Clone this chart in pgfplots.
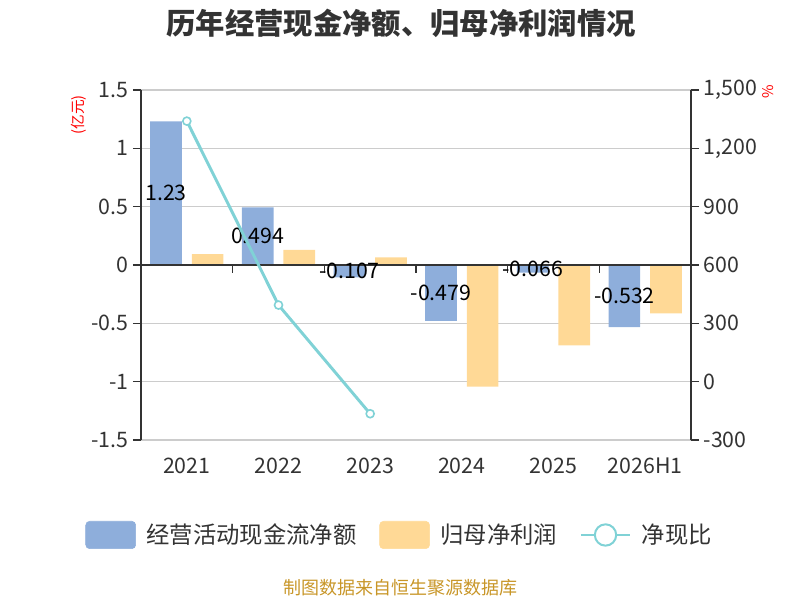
\documentclass[border=0pt]{standalone}
\usepackage{fontspec}
\setmainfont{Noto Sans CJK SC}
\usepackage{pgfplots}
\pgfplotsset{compat=1.18}
\definecolor{barblue}{RGB}{142,174,219}
\definecolor{baryellow}{RGB}{255,217,150}
\definecolor{linecyan}{RGB}{128,210,214}
\definecolor{gridgray}{RGB}{204,204,204}
\definecolor{axisdark}{RGB}{51,51,51}
\definecolor{tickcol}{RGB}{51,51,51}
\definecolor{footcol}{RGB}{200,150,40}
\pgfplotstableread{
x y label
0 1.23 1.23
1 0.494 0.494
2 -0.107 -0.107
3 -0.479 -0.479
4 -0.066 -0.066
5 -0.532 -0.532
}\cashflow
\pgfplotstableread{
x y
0 0.094
1 0.129
2 0.066
3 -1.043
4 -0.690
5 -0.414
}\profit
\pgfplotstableread{
x y
0 1340
1 394
2 -165
}\ratio
\begin{document}
\begin{tikzpicture}[x=1pt,y=1pt]
\useasboundingbox (0,0) rectangle (600,450);
\begin{axis}[
  at={(105.75pt,120pt)}, anchor=south west,
  width=412.5pt, height=262.5pt, scale only axis,
  xmin=-0.5, xmax=5.5, ymin=-1.5, ymax=1.5,
  axis y line*=left, axis x line*=bottom,
  x axis line style={draw=none},
  y axis line style={axisdark, line width=1.1pt, -},
  xtick={0,...,5}, xticklabels={2021,2022,2023,2024,2025,2026H1},
  x tick style={draw=none},
  xticklabel style={yshift=-4pt},
  ytick={-1.5,-1,-0.5,0,0.5,1,1.5},
  yticklabels={-1.5,-1,-0.5,0,0.5,1,1.5},
  y tick style={axisdark, line width=1.1pt},
  tick align=outside, major tick length=6pt,
  ymajorgrids, grid style={gridgray, line width=1.1pt},
  ticklabel style={font=\fontsize{16}{16}\selectfont, text=tickcol},
  ybar, bar width=0.345,
  clip=false,
]
\addplot[fill=barblue, draw=none, bar shift=-0.227,
  nodes near coords, point meta=explicit symbolic,
  visualization depends on=rawy\as\rawy,
  every node near coord/.append style={anchor=center, yshift={-43.75*(\rawy)},
    font=\fontsize{16}{16}\selectfont, text=black, inner sep=0pt}]
  table[x=x, y=y, meta=label] {\cashflow};
\addplot[fill=baryellow, draw=none, bar shift=0.227] table[x=x, y=y] {\profit};
\draw[axisdark, line width=1.1pt] (axis cs:-0.5,0) -- (axis cs:5.5,0);
\pgfplotsinvokeforeach{0.5,1.5,2.5,3.5,4.5}{
  \draw[axisdark, line width=1.1pt] (axis cs:#1,0) -- ([yshift=-6pt]axis cs:#1,0);
}
\end{axis}
\begin{axis}[
  at={(105.75pt,120pt)}, anchor=south west,
  width=412.5pt, height=262.5pt, scale only axis,
  xmin=-0.5, xmax=5.5, ymin=-300, ymax=1500,
  axis y line*=right, axis x line=none,
  y axis line style={axisdark, line width=1.1pt, -},
  ytick={-300,0,300,600,900,1200,1500},
  yticklabels={-300,0,300,600,900,{1,200},{1,500}},
  y tick style={axisdark, line width=1.1pt},
  tick align=outside, major tick length=6pt,
  ticklabel style={font=\fontsize{16}{16}\selectfont, text=tickcol},
  clip=false,
  legend columns=3,
  legend style={at={(rel axis cs:0.4709,-0.2714)}, anchor=center,
    draw=none, fill=none, inner sep=0pt,
    font=\fontsize{17.5}{18}\selectfont, text=tickcol,
    /tikz/every odd column/.append style={column sep=6pt},
    /tikz/every even column/.append style={column sep=15pt}},
]
\addlegendimage{legend image code/.code={\fill[barblue, rounded corners=3pt] (0pt,-10.3pt) rectangle (37.5pt,10.3pt);}}
\addlegendentry{经营活动现金流净额}
\addlegendimage{legend image code/.code={\fill[baryellow, rounded corners=3pt] (0pt,-10.3pt) rectangle (37.5pt,10.3pt);}}
\addlegendentry{归母净利润}
\addplot[linecyan, line width=2.2pt, mark=*, mark size=3pt,
  mark options={fill=white, draw=linecyan, line width=1.2pt},
  legend image code/.code={
    \draw[linecyan, line width=1.5pt] (0pt,0pt) -- (37pt,0pt);
    \draw[linecyan, line width=1.5pt, fill=white] (18.5pt,0pt) circle (8pt);}]
  table[x=x, y=y] {\ratio};
\addlegendentry{净现比}
\end{axis}
\node[font=\bfseries\fontsize{22}{22}\selectfont, text=axisdark] at (300.75,432.75) {历年经营现金净额、归母净利润情况};
\node[font=\fontsize{11}{11}\selectfont, text=red, rotate=90] at (59.25,363.75) {(亿元)};
\node[font=\fontsize{11}{11}\selectfont, text=red, rotate=90] at (576,381) {\%};
\node[font=\fontsize{13.5}{14}\selectfont, text=footcol] at (300,9) {制图数据来自恒生聚源数据库};
\end{tikzpicture}
\end{document}
